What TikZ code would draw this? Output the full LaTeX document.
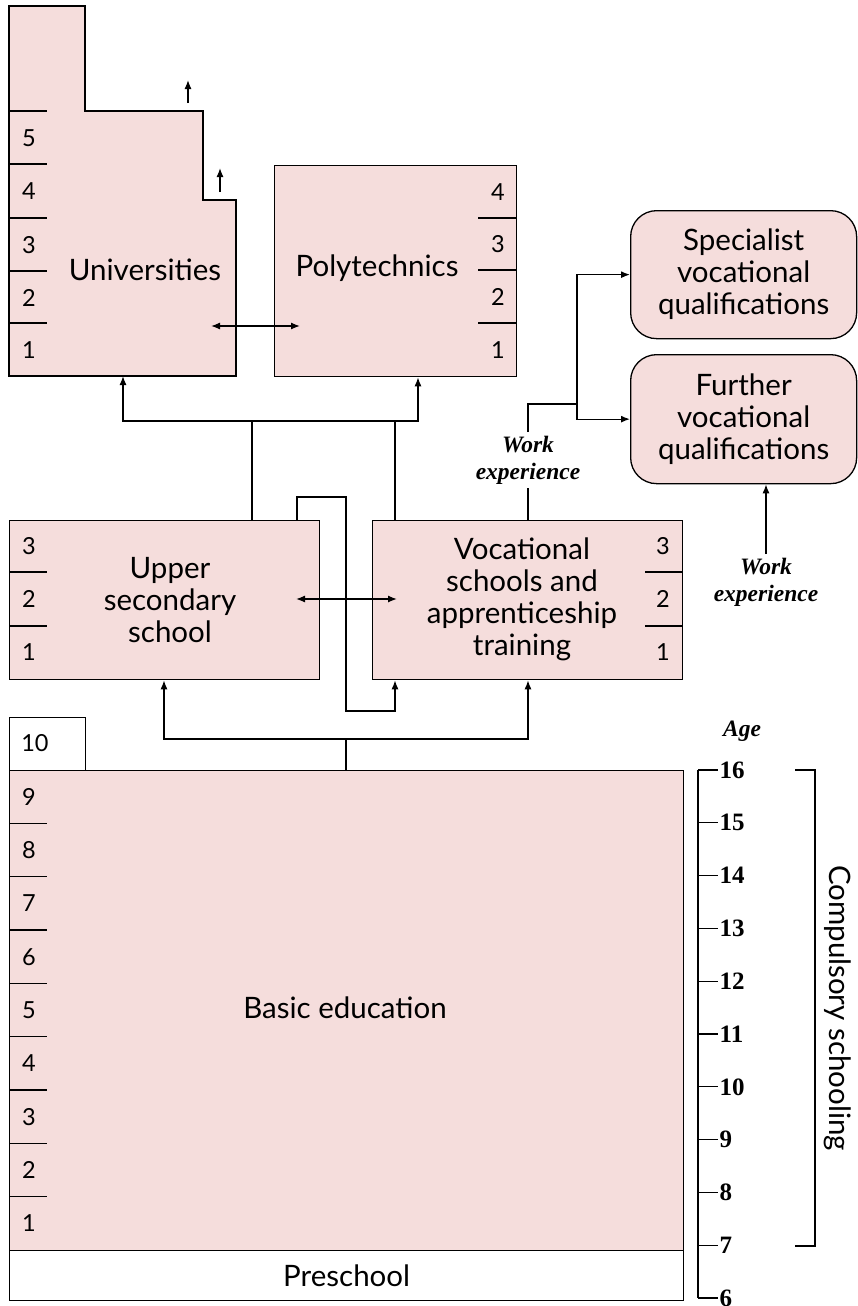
\documentclass[tikz,border=0pt]{standalone}
\usepackage{fontspec}
\setmainfont{Lato}
\newfontfamily\seriffont{Liberation Serif}
\usetikzlibrary{arrows.meta}
\definecolor{pinkfill}{HTML}{F5DDDC}
\begin{document}
\begin{tikzpicture}[x=1pt,y=-1pt,line width=1.3pt,
  box/.style={draw,fill=pinkfill,rectangle,inner sep=0pt,anchor=north west},
  wbox/.style={draw,fill=white,rectangle,inner sep=0pt,anchor=north west},
  rbox/.style={draw,fill=pinkfill,rectangle,rounded corners=26pt,inner sep=0pt,anchor=north west},
  maintext/.style={align=center,font=\fontsize{29.5}{32}\selectfont,inner sep=0pt},
  grade/.style={font=\fontsize{23.5}{25}\selectfont,inner sep=0pt},
  agenum/.style={font=\seriffont\bfseries\fontsize{25}{28}\selectfont,inner sep=0pt,anchor=west},
  worktext/.style={align=center,font=\seriffont\bfseries\itshape\fontsize{23.5}{27}\selectfont,inner sep=0pt},
  conn/.style={-{Latex[length=9pt,width=7pt]}},
  dconn/.style={{Latex[length=9pt,width=7pt]}-{Latex[length=9pt,width=7pt]}},
  tick/.style={line width=1.3pt}]
\useasboundingbox (0,0) rectangle (857,1306);

% Universities
\draw[fill=pinkfill] (9,6) -- (85,6) -- (85,111) -- (203,111) -- (203,200) -- (236,200) -- (236,376) -- (9,376) -- cycle;
\node[maintext] (uni) at (145,270) {Universities};
\coordinate (uniB) at (123,376);
\foreach \y in {111,164,218,271,323} \draw[tick] (9,\y) -- (47,\y);
\foreach \n/\y in {5/138,4/191,3/245,2/298,1/350} \node[grade] (u\n) at (29,\y) {\n};
\coordinate (stepA) at (188,103);
\coordinate (stepAt) at (188,80);
\coordinate (stepB) at (220,192);
\coordinate (stepBt) at (220,168);
\draw[conn] (stepA) -- (stepAt);
\draw[conn] (stepB) -- (stepBt);

% Polytechnics
\node[box,minimum width=242pt,minimum height=211pt] (poly) at (274,165) {};
\node[maintext] (polyt) at (377,268) {Polytechnics};
\foreach \y in {218,270,323} \draw[tick] (478,\y) -- (516,\y);
\foreach \n/\y in {4/192,3/244,2/297,1/350} \node[grade] (p\n) at (498,\y) {\n};

\draw[dconn] (211,326) -- (300,326);

% Upper secondary
\node[box,minimum width=310pt,minimum height=159pt] (upper) at (9,520) {};
\node[maintext] (uppert) at (170,600) {Upper\\secondary\\school};
\foreach \y in {572,626} \draw[tick] (9,\y) -- (47,\y);
\foreach \n/\y in {3/546,2/599,1/652} \node[grade] (us\n) at (29,\y) {\n};

% Vocational
\node[box,minimum width=310pt,minimum height=159pt] (voc) at (372,520) {};
\node[maintext] (voct) at (522,599) {Vocational\\schools and\\apprenticeship\\training};
\foreach \y in {572,626} \draw[tick] (645,\y) -- (682,\y);
\foreach \n/\y in {3/546,2/599,1/652} \node[grade] (v\n) at (663,\y) {\n};

\draw[dconn] (296,599) -- (397,599);

% Specialist / Further
\node[rbox,minimum width=226pt,minimum height=128pt] (spec) at (630,210) {};
\node[maintext] at (spec.center) {Specialist\\vocational\\qualifications};
\node[rbox,minimum width=226pt,minimum height=129pt] (further) at (630,354) {};
\node[maintext] at (further.center) {Further\\vocational\\qualifications};

% Basic education
\node[wbox,minimum width=76pt,minimum height=53pt] (ten) at (9,717) {};
\node[grade] at (35,743) {10};
\node[box,minimum width=674pt,minimum height=480pt] (basic) at (9,770) {};
\node[maintext] (basict) at (345,1008) {Basic education};
\foreach \k in {1,...,8} \draw[tick] (9,{770+53.33*\k}) -- (47,{770+53.33*\k});
\foreach \k in {0,...,8} {
  \pgfmathtruncatemacro{\g}{9-\k}
  \node[grade] at (29,{796.7+53.33*\k}) {\g};
}
\node[wbox,minimum width=674pt,minimum height=50pt] (pre) at (9,1250) {};
\node[maintext] at (pre.center) {Preschool};

% Connectors
\draw[conn] (252,0 |- upper.north) -- (252,421) -| (uniB);
\draw[conn] (252,421) -| (418,0 |- poly.south);
\draw (395,0 |- voc.north) -- (395,421);
\draw[conn] (297,0 |- upper.north) -- (297,497) -| (346,711) -| (395,0 |- voc.south);
\draw[conn] (346,0 |- basic.north) -- (346,739) -| (164,0 |- upper.south);
\draw[conn] (346,739) -| (528,0 |- voc.south);

% Work experience (left)
\node[worktext] (we1) at (528,460) {Work\\experience};
\draw (528,0 |- voc.north) -- ([yshift=-3pt]we1.south);
\coordinate (split) at (577,404);
\draw ([yshift=3pt]we1.north) -- (528,404) -- (split);
\draw[conn] (split) |- (spec.west);
\draw[conn] (split) |- (further.west);

% Work experience (right)
\node[worktext] (we2) at (766,582) {Work\\experience};
\draw[conn] ([yshift=3pt]we2.north) -- (766,0 |- further.south);

% Age scale
\node[font=\seriffont\bfseries\itshape\fontsize{23.5}{26}\selectfont,inner sep=0pt] (age) at (742,731) {Age};
\draw (698,770) -- (698,1298);
\foreach \k in {0,...,10} {
  \pgfmathtruncatemacro{\a}{16-\k}
  \draw (698,{770+52.8*\k}) -- (718,{770+52.8*\k});
  \node[agenum] at (719,{770+52.8*\k}) {\a};
}
\draw (795,770) -- (815,770) -- (815,1246) -- (795,1246);
\node[maintext,rotate=-90] (comp) at (838,1008) {Compulsory schooling};
\end{tikzpicture}
\end{document}
